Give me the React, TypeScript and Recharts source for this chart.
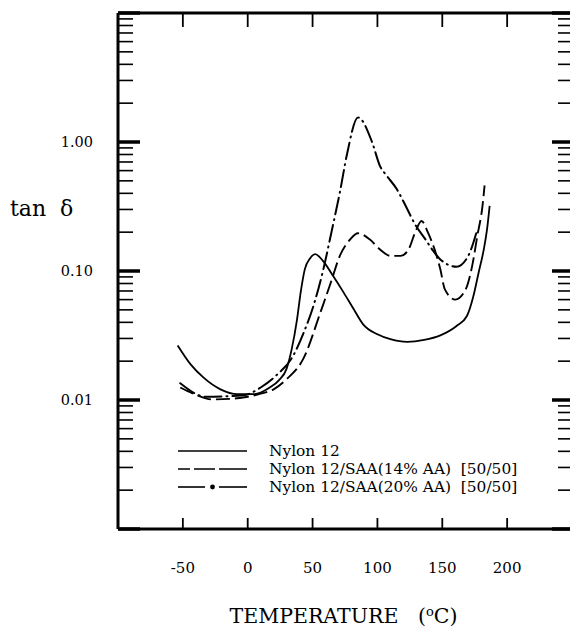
import { Legend, Line, LineChart, XAxis, YAxis } from "recharts";

// Temperature (°C) and tan δ, one pair of arrays per sample
const nylonTemp = [-54, -44, -34, -21, -8, 5, 17, 24, 30, 34, 38, 41, 44, 48, 52, 58, 66, 74, 82, 89, 100, 110, 123, 136, 148.5, 161, 169, 174, 178, 182, 184.5, 186.5];
const nylonTan = [0.0265, 0.0189, 0.0149, 0.0121, 0.0111, 0.0111, 0.0125, 0.0142, 0.0175, 0.025, 0.042, 0.07, 0.103, 0.125, 0.135, 0.12, 0.091, 0.068, 0.05, 0.0386, 0.0323, 0.0296, 0.0282, 0.0292, 0.0317, 0.0375, 0.0448, 0.064, 0.097, 0.147, 0.21, 0.32];

const saa14Temp = [-52, -40, -27, -14, 0, 10, 20, 30, 43, 56, 64, 71, 79, 85, 94, 102, 110, 118, 124, 129, 134, 139, 148.5, 152, 160, 168, 173, 177, 181, 182.6];
const saa14Tan = [0.0125, 0.011, 0.0101, 0.0102, 0.0106, 0.0112, 0.0121, 0.0145, 0.021, 0.0476, 0.081, 0.131, 0.176, 0.196, 0.176, 0.147, 0.131, 0.131, 0.147, 0.198, 0.244, 0.198, 0.103, 0.072, 0.06, 0.072, 0.109, 0.187, 0.32, 0.46];

const saa20Temp = [-52, -32, -3, 10, 22, 35, 43, 51, 58, 65, 71, 76.5, 85, 96, 102, 107, 115, 122, 129, 137, 143, 148.5, 161, 170, 177];
const saa20Tan = [0.0135, 0.0106, 0.0109, 0.0125, 0.0155, 0.022, 0.033, 0.055, 0.1, 0.21, 0.405, 0.8, 1.55, 0.99, 0.65, 0.55, 0.43, 0.316, 0.23, 0.176, 0.143, 0.123, 0.108, 0.131, 0.21];

const seriesNames = ["Nylon 12", "Nylon 12/SAA(14% AA)  [50/50]", "Nylon 12/SAA(20% AA)  [50/50]"];

const xTicks = [-50, 0, 50, 100, 150, 200];
const yDecades = [0.001, 0.01, 0.1, 1];
const yMantissas = [1, 2, 3, 4, 5, 6, 7, 8, 9];
const yLabelValues = [0.01, 0.1, 1];
const yLabelText = ["0.01", "0.10", "1.00"];

const yTicks = [...yDecades.flatMap((d) => yMantissas.map((m) => d * m)), 10];

const toPoints = (ts: number[], vs: number[]) => ts.map((t, i) => ({ t, v: vs[i] }));

const FONT = "'DejaVu Serif', 'Liberation Serif', serif";
const INK = "#000";

const isMajor = (v: number) => Math.abs(Math.log10(v) - Math.round(Math.log10(v))) < 1e-9;
const labelFor = (v: number) => {
  const i = yLabelValues.findIndex((l) => Math.abs(l - v) < 1e-12);
  return i >= 0 ? yLabelText[i] : null;
};

function LeftTick(props: any) {
  const { x, y, payload } = props;
  const v = payload.value as number;
  const major = isMajor(v);
  const text = labelFor(v);
  return (
    <g>
      <line x1={x} x2={x + (major ? 22 : 15)} y1={y} y2={y} stroke={INK} strokeWidth={major ? 3.5 : 1.6} />
      {text ? (
        <text x={x - 25} y={y} dy={5} textAnchor="end" fontFamily={FONT} fontSize={14.5} fill={INK}>
          {text}
        </text>
      ) : null}
    </g>
  );
}

function RightTick(props: any) {
  const { x, y, payload } = props;
  const major = isMajor(payload.value);
  return <line x1={x} x2={x - (major ? 20 : 14)} y1={y} y2={y} stroke={INK} strokeWidth={major ? 3.5 : 1.6} />;
}

function BottomTick(props: any) {
  const { x, y, payload } = props;
  return (
    <g>
      <line x1={x} x2={x} y1={y} y2={y - 11} stroke={INK} strokeWidth={1.8} />
      <text x={x} y={y + 39} dy={5} textAnchor="middle" fontFamily={FONT} fontSize={15} fill={INK}>
        {payload.value}
      </text>
    </g>
  );
}

function TopTick(props: any) {
  const { x, y } = props;
  return <line x1={x} x2={x} y1={y} y2={y + 14} stroke={INK} strokeWidth={1.8} />;
}

function LegendSample({ kind }: { kind: number }) {
  return (
    <svg width={69} height={18} style={{ display: "block" }}>
      {kind === 0 ? <line x1={0} x2={69} y1={9} y2={9} stroke={INK} strokeWidth={1.6} /> : null}
      {kind === 1 ? (
        <line x1={0} x2={69} y1={9} y2={9} stroke={INK} strokeWidth={1.6} strokeDasharray="12 4 21 4 28" />
      ) : null}
      {kind === 2 ? (
        <g>
          <line x1={0} x2={27} y1={9} y2={9} stroke={INK} strokeWidth={1.6} />
          <circle cx={34.5} cy={9} r={2.4} fill={INK} />
          <line x1={41} x2={69} y1={9} y2={9} stroke={INK} strokeWidth={1.6} />
        </g>
      ) : null}
    </svg>
  );
}

function LegendBox() {
  return (
    <div style={{ fontFamily: FONT, fontSize: 15.4, color: INK }}>
      {seriesNames.map((name, i) => (
        <div key={name} style={{ display: "flex", alignItems: "center", height: 18 }}>
          <LegendSample kind={i} />
          <span style={{ marginLeft: 22, whiteSpace: "pre", lineHeight: "18px" }}>{name}</span>
        </div>
      ))}
    </div>
  );
}

export default function App() {
  const axisLine = { stroke: INK, strokeWidth: 3 };
  return (
    <div
      style={{
        position: "absolute",
        left: 0,
        top: 0,
        width: 570,
        height: 630,
        overflow: "hidden",
        background: "#fff",
      }}
    >
      <LineChart width={576} height={630} margin={{ top: 12, right: 3, bottom: 100, left: 117 }}>
        <XAxis
          xAxisId="b"
          type="number"
          dataKey="t"
          orientation="bottom"
          domain={[-100, 250]}
          ticks={xTicks}
          interval={0}
          height={1}
          tickSize={0}
          tickMargin={0}
          tickLine={false}
          axisLine={axisLine}
          tick={(p: any) => <BottomTick {...p} />}
          allowDataOverflow
        />
        <XAxis
          xAxisId="top"
          type="number"
          dataKey="t"
          orientation="top"
          domain={[-100, 250]}
          ticks={xTicks}
          interval={0}
          height={1}
          tickSize={0}
          tickMargin={0}
          tickLine={false}
          axisLine={axisLine}
          tick={(p: any) => <TopTick {...p} />}
          allowDataOverflow
        />
        <YAxis
          yAxisId="l"
          type="number"
          scale="log"
          domain={[0.001, 10]}
          ticks={yTicks}
          interval={0}
          width={1}
          tickSize={0}
          tickMargin={0}
          tickLine={false}
          axisLine={axisLine}
          tick={(p: any) => <LeftTick {...p} />}
          allowDataOverflow
        />
        <YAxis
          yAxisId="r"
          orientation="right"
          type="number"
          scale="log"
          domain={[0.001, 10]}
          ticks={yTicks}
          interval={0}
          width={1}
          tickSize={0}
          tickMargin={0}
          tickLine={false}
          axisLine={axisLine}
          tick={(p: any) => <RightTick {...p} />}
          allowDataOverflow
        />
        <Legend
          layout="vertical"
          align="center"
          verticalAlign="middle"
          content={() => <LegendBox />}
          wrapperStyle={{ position: "absolute", left: 178, top: 442, width: 380 }}
        />
        <Line
          xAxisId="b"
          yAxisId="l"
          data={toPoints(nylonTemp, nylonTan)}
          dataKey="v"
          name={seriesNames[0]}
          type="monotone"
          stroke={INK}
          strokeWidth={1.8}
          dot={false}
          isAnimationActive={false}
        />
        <Line
          xAxisId="b"
          yAxisId="l"
          data={toPoints(saa14Temp, saa14Tan)}
          dataKey="v"
          name={seriesNames[1]}
          type="monotone"
          stroke={INK}
          strokeWidth={1.9}
          strokeDasharray="14 5"
          dot={false}
          isAnimationActive={false}
        />
        <Line
          xAxisId="b"
          yAxisId="l"
          data={toPoints(saa20Temp, saa20Tan)}
          dataKey="v"
          name={seriesNames[2]}
          type="monotone"
          stroke={INK}
          strokeWidth={2}
          strokeDasharray="17 5 1 5"
          strokeLinecap="round"
          dot={false}
          isAnimationActive={false}
        />
      </LineChart>
      <div
        style={{
          position: "absolute",
          left: 10,
          top: 195,
          fontFamily: FONT,
          fontSize: 22,
          lineHeight: "28px",
          whiteSpace: "pre",
          color: INK,
        }}
      >
        {"tan  δ"}
      </div>
      <div
        style={{
          position: "absolute",
          left: 0,
          width: 687,
          top: 605,
          textAlign: "center",
          fontFamily: FONT,
          fontSize: 20.5,
          lineHeight: "22px",
          whiteSpace: "pre",
          color: INK,
        }}
      >
        {"TEMPERATURE   ("}
        <span style={{ fontSize: 13, position: "relative", top: -7 }}>o</span>
        {"C)"}
      </div>
    </div>
  );
}
